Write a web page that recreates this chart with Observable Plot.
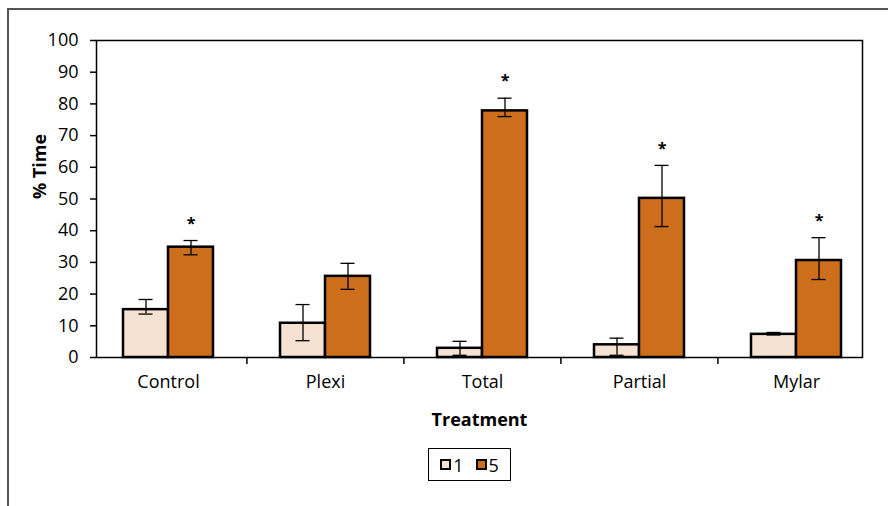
<!DOCTYPE html>
<html>
<head>
<meta charset="utf-8">
<script src="https://cdn.jsdelivr.net/npm/d3@7"></script>
<script src="https://cdn.jsdelivr.net/npm/@observablehq/plot@0.6"></script>
<style>
  html, body { margin: 0; padding: 0; background: #fff; overflow: hidden; }
  body { width: 888px; height: 506px; position: relative; font-family: "Open Sans", sans-serif; }
  #outer { position: absolute; left: 7px; top: 8px; width: 900px; height: 520px;
           border-top: 2px solid #555; border-left: 2px solid #555; pointer-events: none; }
  #legend { margin-left: 428px; margin-top: 18px; width: 81px; height: 31px; border: 1.5px solid #000;
            display: flex; align-items: center; justify-content: center; gap: 12px; font-size: 18px; color: #000; }
  .item { display: flex; align-items: center; gap: 2px; }
  .sw { width: 7px; height: 7px; border: 2px solid #000; }
</style>
</head>
<body>
<div id="chart"></div>
<div id="legend"></div>
<div id="outer"></div>
<script>
const treatments = ["Control", "Plexi", "Total", "Partial", "Mylar"];
const seriesNames = ["1", "5"];
const seriesColors = ["#F5E2D2", "#CC6E1B"];
const mean1 = [15.1, 10.8, 2.9, 4.0, 7.3];
const hi1 = [18.3, 16.7, 5.1, 6.1, 7.9];
const lo1 = [13.7, 5.3, 0.7, 0.7, 7.1];
const mean5 = [34.8, 25.6, 77.8, 50.2, 30.6];
const hi5 = [36.9, 29.7, 81.8, 60.6, 37.8];
const lo5 = [32.4, 21.5, 76.0, 41.3, 24.6];
const significant = [true, false, true, true, true];
const yTicks = [0, 10, 20, 30, 40, 50, 60, 70, 80, 90, 100];
const yLabel = "% Time";
const xLabel = "Treatment";

const rows1 = treatments.map((t, i) => ({treatment: t, mean: mean1[i], hi: hi1[i], lo: lo1[i]}));
const rows5 = treatments.map((t, i) => ({treatment: t, mean: mean5[i], hi: hi5[i], lo: lo5[i], sig: significant[i]}));

const W = 888, H = 430;
const chart = Plot.plot({
  width: W, height: H,
  marginLeft: 96, marginRight: 26, marginTop: 40, marginBottom: 73,
  style: {fontFamily: "Open Sans", color: "#000", background: "#fff", overflow: "visible"},
  x: {domain: treatments, range: [88.5, 874.5], paddingInner: 0.4275, paddingOuter: 0.21375},
  y: {domain: [0, 100], range: [357, 40]},
  marks: [
    Plot.barY(rows1, {x: "treatment", y: "mean", fill: seriesColors[0], stroke: "#000", strokeWidth: 2.5, insetRight: 45}),
    Plot.barY(rows5, {x: "treatment", y: "mean", fill: seriesColors[1], stroke: "#000", strokeWidth: 2.5, insetLeft: 45}),
    Plot.ruleX(rows1, {x: "treatment", y1: "lo", y2: "hi", dx: -22.5, stroke: "#000", strokeWidth: 1.3}),
    Plot.tickY(rows1, {x: "treatment", y: "hi", insetLeft: 15.5, insetRight: 60.5, stroke: "#000", strokeWidth: 1.3}),
    Plot.tickY(rows1, {x: "treatment", y: "lo", insetLeft: 15.5, insetRight: 60.5, stroke: "#000", strokeWidth: 1.3}),
    Plot.ruleX(rows5, {x: "treatment", y1: "lo", y2: "hi", dx: 22.5, stroke: "#000", strokeWidth: 1.3}),
    Plot.tickY(rows5, {x: "treatment", y: "hi", insetLeft: 60.5, insetRight: 15.5, stroke: "#000", strokeWidth: 1.3}),
    Plot.tickY(rows5, {x: "treatment", y: "lo", insetLeft: 60.5, insetRight: 15.5, stroke: "#000", strokeWidth: 1.3}),
    Plot.text(rows5.filter(d => d.sig), {x: "treatment", y: "hi", text: () => "*", dx: 22.5, dy: -17, fontSize: 16, fontWeight: "bold"}),
    Plot.axisY({ticks: yTicks, tickSize: 6, tickPadding: 12, fontSize: 18, label: null, strokeWidth: 1.5}),
    Plot.axisX({ticks: treatments.slice(1), tickSize: 7, dx: -78.6, tickFormat: () => "", label: null, strokeWidth: 1.5}),
    Plot.axisX({tickSize: 0, tickPadding: 18, fontSize: 18, label: null}),
    Plot.text([yLabel], {text: d => d, frameAnchor: "left", rotate: -90, dx: -56, fontSize: 18, fontWeight: "bold"}),
    Plot.text([xLabel], {text: d => d, frameAnchor: "bottom", lineAnchor: "bottom", dy: 68, fontSize: 18, fontWeight: "bold"}),
    Plot.frame({stroke: "#000", strokeWidth: 1.5})
  ]
});
document.getElementById("chart").appendChild(chart);

const legend = document.getElementById("legend");
seriesNames.forEach((s, i) => {
  const item = document.createElement("div");
  item.className = "item";
  const sw = document.createElement("div");
  sw.className = "sw";
  sw.style.background = seriesColors[i];
  const lab = document.createElement("span");
  lab.textContent = s;
  item.appendChild(sw);
  item.appendChild(lab);
  legend.appendChild(item);
});
</script>
</body>
</html>
